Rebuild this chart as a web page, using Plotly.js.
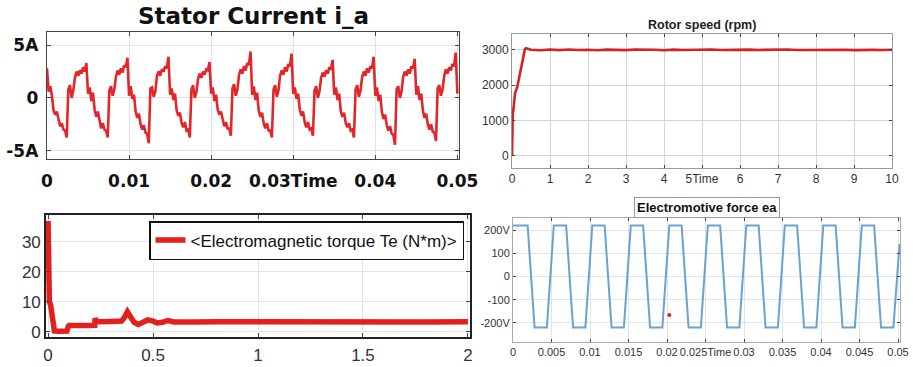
<!DOCTYPE html>
<html>
<head>
<meta charset="utf-8">
<script src="https://cdn.plot.ly/plotly-3.0.1.min.js"></script>
<style>html,body{margin:0;padding:0;background:#fff}#chart{width:913px;height:367px}</style>
</head>
<body>
<div id="chart"></div>
<script>
// ---------- Stator current i_a (sampled every 0.2 ms from t = 0) ----------
const currentT0 = 0;
const currentDt = 0.0002;
const currentA = [
  2.8, 0.6, 1.1, 0.2, -1.2, -1.6, -1.3, -2.2, -2.7, -2.4, -3.0, -3.1, -3.75,
  0.8, 1.2, 0.0, 0.7, 1.9, 2.5, 2.1, 2.6, 2.3, 2.9, 2.5, 3.3,
  0.4, 1.0, -0.3, 0.5, -1.1, -1.8, -1.3, -2.3, -2.9, -2.4, -3.0, -3.1, -3.75,
  0.7, 1.1, 0.2, 0.8, 2.0, 2.6, 2.2, 2.8, 2.4, 3.1, 2.9, 3.8,
  0.2, 1.1, -0.1, 0.3, -1.3, -1.9, -1.5, -2.5, -3.0, -2.6, -3.3, -3.4, -4.3,
  0.9, 1.0, 0.1, 0.6, 2.1, 2.5, 2.1, 2.7, 2.5, 3.0, 2.8, 3.9,
  0.3, 0.9, -0.2, 0.4, -1.2, -1.7, -1.4, -2.4, -2.8, -2.3, -3.1, -3.0, -3.75,
  0.8, 1.2, 0.0, 0.5, 1.8, 2.3, 1.9, 2.5, 2.2, 2.7, 2.6, 3.4,
  0.4, 1.0, -0.3, 0.3, -1.1, -1.6, -1.3, -2.2, -2.7, -2.3, -2.9, -2.9, -3.6,
  0.9, 1.3, 0.2, 0.8, 2.2, 2.7, 2.3, 3.0, 2.6, 3.3, 3.1, 4.4,
  0.3, 1.1, -0.2, 0.5, -1.2, -1.8, -1.4, -2.4, -2.9, -2.4, -3.1, -3.1, -3.75,
  0.8, 1.2, 0.1, 0.7, 2.1, 2.6, 2.2, 2.9, 2.5, 3.2, 3.0, 4.2,
  0.4, 1.0, -0.1, 0.4, -1.1, -1.7, -1.3, -2.3, -2.8, -2.3, -3.0, -2.9, -3.6,
  0.7, 1.1, 0.0, 0.6, 1.9, 2.4, 2.0, 2.6, 2.3, 2.9, 2.7, 3.6,
  0.3, 1.0, -0.2, 0.4, -1.3, -1.8, -1.4, -2.4, -2.8, -2.4, -3.1, -3.0, -3.75,
  0.8, 1.2, 0.1, 0.7, 2.0, 2.5, 2.1, 2.8, 2.4, 3.0, 2.8, 3.9,
  0.2, 1.0, -0.3, 0.3, -1.3, -2.0, -1.6, -2.6, -3.1, -2.7, -3.4, -3.5, -4.45,
  0.8, 1.1, 0.0, 0.6, 2.0, 2.5, 2.1, 2.7, 2.3, 3.0, 2.8, 3.7,
  0.3, 1.1, -0.2, 0.4, -1.2, -1.9, -1.5, -2.5, -3.0, -2.5, -3.2, -3.3, -4.1,
  0.9, 1.2, 0.2, 0.8, 2.1, 2.7, 2.3, 2.9, 2.6, 3.2, 3.0, 4.3,
  0.4
];
const currentTickVals = [-5, 0, 5];
const currentTickText = ['-5A', '0', '5A'];
const currentXTickVals = [0, 0.01, 0.02, 0.03, 0.04, 0.05];
const currentXTickText = ['0', '0.01', '0.02', '0.03Time', '0.04', '0.05'];

// ---------- Rotor speed (rpm) ----------
const speedT = [0, 0.005, 0.01, 0.02, 0.035, 0.08, 0.14, 0.21, 0.28, 0.34, 0.37, 0.42, 0.5,
  0.75, 1, 1.25, 1.5, 1.75, 2, 2.25, 2.5, 2.75, 3, 3.25, 3.5, 3.75, 4, 4.25, 4.5, 4.75, 5,
  5.25, 5.5, 5.75, 6, 6.25, 6.5, 6.75, 7, 7.25, 7.5, 7.75, 8, 8.25, 8.5, 8.75, 9, 9.25, 9.5, 9.75, 10];
const speedRpm = [0, 650, 1000, 1180, 1300, 1770, 1960, 2340, 2720, 3020, 3050, 3030, 3005,
  2990, 3010, 2995, 3012, 2998, 3006, 2992, 3008, 3000, 2994, 3011, 2997, 3004, 2990, 3009,
  2999, 3006, 2993, 3010, 2996, 3003, 2991, 3008, 2999, 3005, 2994, 3011, 2998, 3002, 2992,
  3009, 2997, 3006, 2995, 3008, 3000, 2996, 3004];
const speedTickVals = [0, 1000, 2000, 3000];
const speedXTickVals = [0, 1, 2, 3, 4, 5, 6, 7, 8, 9, 10];
const speedXTickText = ['0', '1', '2', '3', '4', '5Time', '6', '7', '8', '9', '10'];

// ---------- Electromagnetic torque Te (N*m) ----------
const torqueT = [0, 0.002, 0.006, 0.012, 0.018, 0.025, 0.03, 0.05, 0.07, 0.09, 0.096, 0.1, 0.15,
  0.2, 0.222, 0.224, 0.23, 0.3, 0.35, 0.365, 0.378, 0.395, 0.41, 0.43, 0.45, 0.475, 0.5, 0.52,
  0.545, 0.57, 0.6, 0.65, 0.7, 0.8, 1.0, 1.2, 1.4, 1.6, 1.8, 2.0];
const torqueNm = [37, 12, 10, 9, 6, 1, 0.3, 0.2, 0.2, 0.3, 1.8, 2.1, 2.1,
  2.1, 2.2, 4.6, 3.4, 3.5, 3.6, 5.0, 6.7, 4.8, 3.2, 2.5, 3.0, 4.0, 3.6, 3.0,
  3.2, 3.8, 3.3, 3.5, 3.3, 3.4, 3.3, 3.4, 3.3, 3.4, 3.3, 3.4];
const torqueTickVals = [0, 10, 20, 30];
const torqueXTickVals = [0, 0.5, 1, 1.5, 2];

// ---------- Electromotive force ea (V) ----------
const emfT = [0, 0.0019, 0.0028, 0.0044, 0.0053,
  0.0069, 0.0078, 0.0094, 0.0103,
  0.0119, 0.0128, 0.0144, 0.0153,
  0.0169, 0.0178, 0.0194, 0.0203,
  0.0219, 0.0228, 0.0244, 0.0253,
  0.0269, 0.0278, 0.0294, 0.0303,
  0.0319, 0.0328, 0.0344, 0.0353,
  0.0369, 0.0378, 0.0394, 0.0403,
  0.0419, 0.0428, 0.0444, 0.0453,
  0.0469, 0.0478, 0.0494, 0.0502];
const emfV = [220, 220, -220, -220, 220,
  220, -220, -220, 220,
  220, -220, -220, 220,
  220, -220, -220, 220,
  220, -220, -220, 220,
  220, -220, -220, 220,
  220, -220, -220, 220,
  220, -220, -220, 220,
  220, -220, -220, 220,
  220, -220, -220, 140];
const emfDotT = [0.0203];
const emfDotV = [-166];
const emfTickVals = [-200, -100, 0, 100, 200];
const emfTickText = ['-200V', '-100', '0', '100', '200V'];
const emfXTickVals = [0, 0.005, 0.01, 0.015, 0.02, 0.025, 0.03, 0.035, 0.04, 0.045, 0.05];
const emfXTickText = ['0', '0.005', '0.01', '0.015', '0.02', '0.025Time', '0.03', '0.035', '0.04', '0.045', '0.05'];

const W = 913, H = 367;
const px = v => v / W;
const py = v => 1 - v / H;

const traces = [
  {x0: currentT0, dx: currentDt, y: currentA, type: 'scatter', mode: 'lines',
   line: {color: '#e3262a', width: 2.6}, xaxis: 'x', yaxis: 'y', showlegend: false},
  {x: speedT, y: speedRpm, type: 'scatter', mode: 'lines',
   line: {color: '#d82222', width: 2.6}, xaxis: 'x2', yaxis: 'y2', showlegend: false},
  {x: torqueT, y: torqueNm, type: 'scatter', mode: 'lines', name: '<Electromagnetic torque Te (N*m)>',
   line: {color: '#e2201e', width: 5.5}, xaxis: 'x3', yaxis: 'y3', showlegend: true},
  {x: emfT, y: emfV, type: 'scatter', mode: 'lines',
   line: {color: '#68a3d3', width: 2}, xaxis: 'x4', yaxis: 'y4', showlegend: false},
  {x: emfDotT, y: emfDotV, type: 'scatter', mode: 'markers',
   marker: {color: '#e02020', size: 4}, xaxis: 'x4', yaxis: 'y4', showlegend: false}
];

const boldFont = {family: 'DejaVu Sans', size: 17, color: '#111', weight: 'bold'};
const arialFont = {family: 'Liberation Sans', size: 12, color: '#333'};
const narrowFont = {family: 'Liberation Sans Narrow, Liberation Sans', size: 11, color: '#333'};

function ax(extra) {
  return Object.assign({showline: true, mirror: 'ticks', ticks: 'inside', ticklen: 4,
    showgrid: true, zeroline: false, tickmode: 'array', fixedrange: true}, extra);
}

const layout = {
  width: W, height: H,
  margin: {l: 0, r: 0, t: 0, b: 0},
  paper_bgcolor: '#fff', plot_bgcolor: '#fff',
  showlegend: true,
  legend: {x: px(464), xanchor: 'right', y: py(221), yanchor: 'top',
    bgcolor: '#fff', bordercolor: '#111', borderwidth: 1.5,
    font: {family: 'Liberation Sans', size: 17, color: '#111'}, itemwidth: 30,
    tracegroupgap: 0},
  xaxis: ax({domain: [px(47), px(459)], range: [0, 0.0502], anchor: 'y',
    tickvals: currentXTickVals, ticktext: currentXTickText, tickfont: boldFont,
    linecolor: '#444', linewidth: 1.3, gridcolor: '#e2e2e2', ticklabelstandoff: 6}),
  yaxis: ax({domain: [py(159), py(32)], range: [-5.8, 6.25], anchor: 'x',
    tickvals: currentTickVals, ticktext: currentTickText, tickfont: boldFont,
    linecolor: '#444', linewidth: 1.3, gridcolor: '#e2e2e2', ticklabelstandoff: 4}),
  xaxis2: ax({domain: [px(512), px(892)], range: [0, 10], anchor: 'y2',
    tickvals: speedXTickVals, ticktext: speedXTickText, tickfont: arialFont,
    linecolor: '#999', linewidth: 1, gridcolor: '#d4d4d4', ticklen: 3}),
  yaxis2: ax({domain: [py(168), py(34)], range: [-340, 3450], anchor: 'x2',
    tickvals: speedTickVals, ticktext: ['0', '1000', '2000', '3000'], tickfont: arialFont,
    linecolor: '#999', linewidth: 1, gridcolor: '#d4d4d4', ticklen: 3}),
  xaxis3: ax({domain: [px(46), px(470)], range: [-0.01, 2.01], anchor: 'y3',
    tickvals: torqueXTickVals, ticktext: ['0', '0.5', '1', '1.5', '2'],
    tickfont: {family: 'Liberation Sans', size: 17, color: '#333'},
    linecolor: '#222', linewidth: 1.8, gridcolor: '#e4e4e4', ticklabelstandoff: 2}),
  yaxis3: ax({domain: [py(337), py(215)], range: [-1.7, 39], anchor: 'x3',
    tickvals: torqueTickVals, ticktext: ['0', '10', '20', '30'],
    tickfont: {family: 'Liberation Sans', size: 17, color: '#333'},
    linecolor: '#222', linewidth: 1.8, gridcolor: '#e4e4e4'}),
  xaxis4: ax({domain: [px(513), px(900)], range: [0, 0.05026], anchor: 'y4',
    tickvals: emfXTickVals, ticktext: emfXTickText, tickfont: narrowFont,
    linecolor: '#aaa', linewidth: 1, gridcolor: '#e4e4e4', ticklen: 3}),
  yaxis4: ax({domain: [py(342), py(218)], range: [-282, 252], anchor: 'x4',
    tickvals: emfTickVals, ticktext: emfTickText, tickfont: narrowFont,
    linecolor: '#aaa', linewidth: 1, gridcolor: '#e4e4e4', ticklen: 3, ticklabelstandoff: 0}),
  annotations: [
    {text: 'Stator Current i_a', xref: 'paper', yref: 'paper', x: px(253), y: py(16),
     xanchor: 'center', yanchor: 'middle', showarrow: false,
     font: {family: 'DejaVu Sans', size: 23, color: '#111', weight: 'bold'}},
    {text: 'Rotor speed (rpm)', xref: 'paper', yref: 'paper', x: px(702), y: py(25),
     xanchor: 'center', yanchor: 'middle', showarrow: false,
     font: {family: 'Liberation Sans', size: 12.5, color: '#222', weight: 'bold'}},
    {text: 'Electromotive force ea', xref: 'paper', yref: 'paper', x: px(707), y: py(218),
     xanchor: 'center', yanchor: 'bottom', showarrow: false,
     bgcolor: '#fff', bordercolor: '#999', borderwidth: 1, borderpad: 2,
     font: {family: 'Liberation Sans Narrow, Liberation Sans', size: 13, color: '#111', weight: 'bold'}}
  ]
};

Plotly.newPlot('chart', traces, layout, {displayModeBar: false, staticPlot: true});
</script>
</body>
</html>
